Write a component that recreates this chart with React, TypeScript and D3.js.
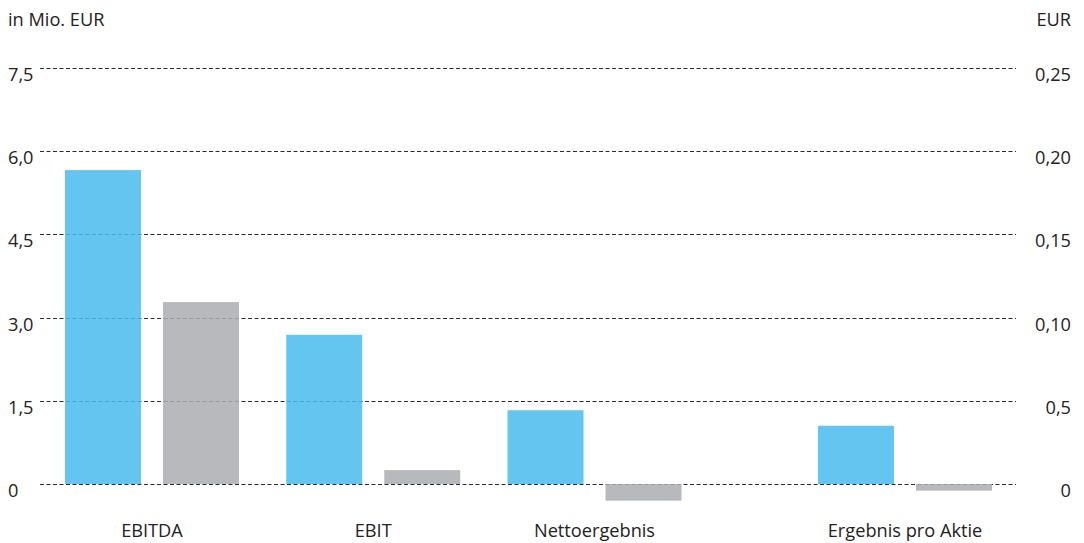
import React from "react";
import * as d3 from "d3";

const categories = ["EBITDA", "EBIT", "Nettoergebnis"];
const epsCategory = "Ergebnis pro Aktie";
const currentValues = [5.66, 2.69, 1.33];
const previousValues = [3.28, 0.25, -0.3];
const epsCurrent = 0.035;
const epsPrevious = -0.004;
const leftTicks = [0, 1.5, 3.0, 4.5, 6.0, 7.5];
const rightTicks = [0, 0.05, 0.1, 0.15, 0.2, 0.25];
const leftTickLabels = ["0", "1,5", "3,0", "4,5", "6,0", "7,5"];
const rightTickLabels = ["0", "0,5", "0,10", "0,15", "0,20", "0,25"];

const W = 1084;
const H = 543;
const FONT = "'Open Sans', 'Noto Sans', sans-serif";
const FS = 18.2;
const BLUE = "#49BCED";
const GREY = "#ABADB1";
const TEXT = "#222";

export default function App() {
  const yL = d3.scaleLinear().domain([0, 7.5]).range([484, 68]);
  const yR = d3.scaleLinear().domain([0, 0.25]).range([484, 68]);

  const xMain = d3.scaleBand<string>().domain(categories).range([65, 681.5]).paddingInner(0.2136).paddingOuter(0);
  const xEps = d3.scaleBand<string>().domain([epsCategory]).range([818, 992]).padding(0);
  const xSub = d3.scaleBand<string>().domain(["cur", "prev"]).range([0, xMain.bandwidth()]).paddingInner(0.2245).paddingOuter(0);

  const bar = (x0: number, v: number, scale: d3.ScaleLinear<number, number>, fill: string, key: string) => {
    const y0 = scale(0);
    const y1 = scale(v);
    return (
      <rect key={key} x={x0} y={Math.min(y0, y1)} width={xSub.bandwidth()} height={Math.abs(y1 - y0)} fill={fill} fillOpacity={0.85} />
    );
  };

  return (
    <svg width={W} height={H} style={{ display: "block", position: "absolute", left: 0, top: 0 }} fontFamily={FONT}>
      <rect width={W} height={H} fill="#fff" />
      <text x={8} y={26} fontSize={FS} fill={TEXT}>in Mio. EUR</text>
      <text x={1071} y={26} fontSize={FS} fill={TEXT} textAnchor="end">EUR</text>
      {leftTicks.map((t, i) => {
        const gy = Math.round(yL(t)) + 0.5;
        return (
          <g key={"g" + i}>
            <line x1={40} x2={1016} y1={gy} y2={gy} stroke="#2a2a2a" strokeWidth={1} strokeDasharray="4,2.5" />
            <text x={8} y={yL(t) + 13} fontSize={FS} fill={TEXT}>{leftTickLabels[i]}</text>
          </g>
        );
      })}
      {rightTicks.map((t, i) => (
        <text key={"r" + i} x={1071} y={yR(t) + 13} fontSize={FS} fill={TEXT} textAnchor="end">{rightTickLabels[i]}</text>
      ))}
      {categories.map((c, i) => {
        const x0 = xMain(c)!;
        return (
          <g key={c}>
            {bar(x0 + xSub("cur")!, currentValues[i], yL, BLUE, c + "a")}
            {bar(x0 + xSub("prev")!, previousValues[i], yL, GREY, c + "b")}
            <text x={x0 + xMain.bandwidth() / 2} y={537} fontSize={FS} fill={TEXT} textAnchor="middle">{c}</text>
          </g>
        );
      })}
      {(() => {
        const x0 = xEps(epsCategory)!;
        return (
          <g>
            {bar(x0 + xSub("cur")!, epsCurrent, yR, BLUE, "ea")}
            {bar(x0 + xSub("prev")!, epsPrevious, yR, GREY, "eb")}
            <text x={x0 + xEps.bandwidth() / 2} y={537} fontSize={FS} fill={TEXT} textAnchor="middle">{epsCategory}</text>
          </g>
        );
      })()}
    </svg>
  );
}
